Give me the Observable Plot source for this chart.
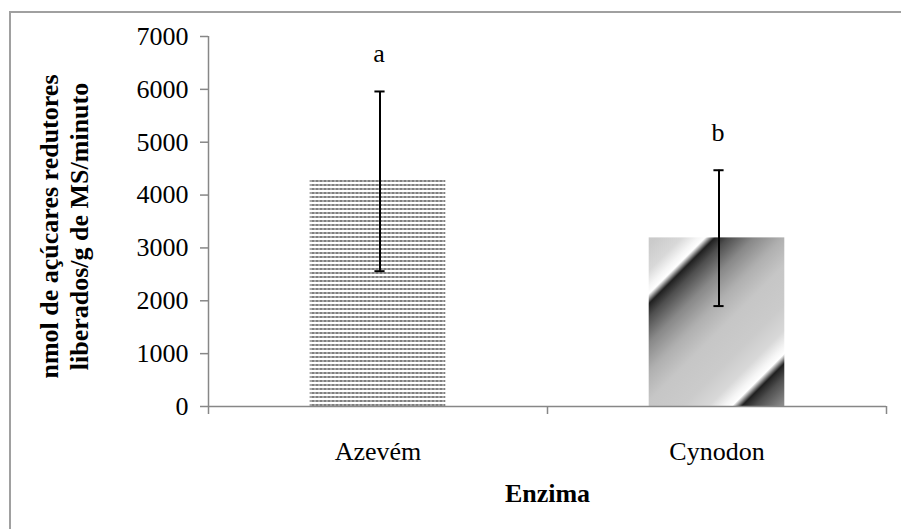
<!DOCTYPE html>
<html><head><meta charset="utf-8">
<script src="https://cdn.jsdelivr.net/npm/d3@7"></script>
<script src="https://cdn.jsdelivr.net/npm/@observablehq/plot@0.6"></script>
<style>
body{margin:0;background:#fff;overflow:hidden;width:901px;height:529px;position:relative}
#frame{position:absolute;left:9px;top:11px;width:2000px;height:2000px;border-left:2px solid #a0a0a0;border-top:2px solid #a0a0a0;pointer-events:none}
</style>
</head><body>
<div id="chart"></div><div id="frame"></div>
<script>
const categories = ["Azevém", "Cynodon"];
const means = [4280, 3190];
const lower = [2560, 1900];
const upper = [5960, 4470];
const letters = ["a", "b"];
const yTicks = [0, 1000, 2000, 3000, 4000, 5000, 6000, 7000];
const yLabel = "nmol de açúcares redutores\nliberados/g de MS/minuto";
const xLabel = "Enzima";

const data = categories.map((c, i) => ({i, c, mean: means[i], lo: lower[i], hi: upper[i], letter: letters[i]}));
const barPad = 0.3, capHalf = 0.015;
const axisGray = "#878787";

const chart = Plot.plot({
  width: 901, height: 529,
  marginLeft: 208, marginRight: 15, marginTop: 36, marginBottom: 123,
  x: {domain: [0, 2], axis: null},
  y: {domain: [0, 7000], axis: null},
  style: {fontFamily: "'Liberation Serif', 'Times New Roman', serif", background: "transparent", color: "black"},
  marks: [
    Plot.rectY(data.filter(d => d.i === 0), {x1: d => d.i + barPad, x2: d => d.i + 1 - barPad, y: "mean", fill: "url(#stripes)"}),
    Plot.rectY(data.filter(d => d.i === 1), {x1: d => d.i + barPad, x2: d => d.i + 1 - barPad, y: "mean", fill: "url(#waves)"}),
    Plot.ruleX([0], {stroke: axisGray, strokeWidth: 1.5}),
    Plot.ruleY([0], {stroke: axisGray, strokeWidth: 1.5}),
    Plot.axisY({ticks: yTicks, tickSize: 8, tickPadding: 12, fontSize: 26, stroke: axisGray, strokeWidth: 1.5, fill: "black", tickFormat: d => String(d), label: null}),
    Plot.axisX({ticks: [0, 1, 2], tickSize: 8, stroke: axisGray, strokeWidth: 1.5, tickFormat: () => "", label: null}),
    Plot.axisX({ticks: data.map(d => d.i + 0.5), tickSize: 0, tickPadding: 35, fontSize: 26, fill: "black", tickFormat: v => categories[Math.floor(v)], label: null}),
    Plot.ruleX(data, {x: d => d.i + 0.5, y1: "lo", y2: "hi", stroke: "black", strokeWidth: 2, dx: 2}),
    Plot.ruleY(data, {y: "lo", x1: d => d.i + 0.5 - capHalf, x2: d => d.i + 0.5 + capHalf, stroke: "black", strokeWidth: 2, dx: 2}),
    Plot.ruleY(data, {y: "hi", x1: d => d.i + 0.5 - capHalf, x2: d => d.i + 0.5 + capHalf, stroke: "black", strokeWidth: 2, dx: 2}),
    Plot.text(data, {x: d => d.i + 0.5, y: "hi", text: "letter", fontSize: 26, lineAnchor: "bottom", dy: -29, dx: 1, fill: "black"}),
    Plot.text([yLabel], {frameAnchor: "left", text: d => d, rotate: -90, textAnchor: "middle", lineAnchor: "middle", fontSize: 26, fontWeight: "bold", lineHeight: 1.15, dx: -145, dy: 5, fill: "black"}),
    Plot.text([xLabel], {frameAnchor: "bottom", text: d => d, fontSize: 26, fontWeight: "bold", lineAnchor: "bottom", dy: 95, fill: "black"})
  ]
});

document.getElementById("chart").appendChild(chart);

const xs = chart.scale("x"), ys = chart.scale("y");
const svg = d3.select(chart);
const defs = svg.insert("defs", ":first-child");
const pat = defs.append("pattern").attr("id", "stripes").attr("patternUnits", "userSpaceOnUse")
  .attr("width", 4).attr("height", 4);
pat.append("rect").attr("width", 4).attr("height", 4).attr("fill", "#ffffff");
pat.append("rect").attr("x", 0).attr("y", 0).attr("width", 2).attr("height", 2).attr("fill", "#808080");
pat.append("rect").attr("x", 2).attr("y", 0).attr("width", 2).attr("height", 2).attr("fill", "#a8a8a8");

const gx = xs.apply(1 + barPad), gy = ys.apply(0) - 112;
const grad = defs.append("linearGradient").attr("id", "waves").attr("gradientUnits", "userSpaceOnUse")
  .attr("spreadMethod", "repeat")
  .attr("x1", gx).attr("y1", gy).attr("x2", gx + 97.6).attr("y2", gy + 97.6);
[[0, "#ffffff"], [0.05, "#202020"], [0.12, "#4e4e4e"], [0.25, "#888888"], [0.4, "#b0b0b0"], [0.55, "#c6c6c6"],
 [0.75, "#cbcbcb"], [0.88, "#d8d8d8"], [0.96, "#f5f5f5"], [1, "#ffffff"]]
  .forEach(([o, c]) => grad.append("stop").attr("offset", o).attr("stop-color", c));
</script>
</body></html>
